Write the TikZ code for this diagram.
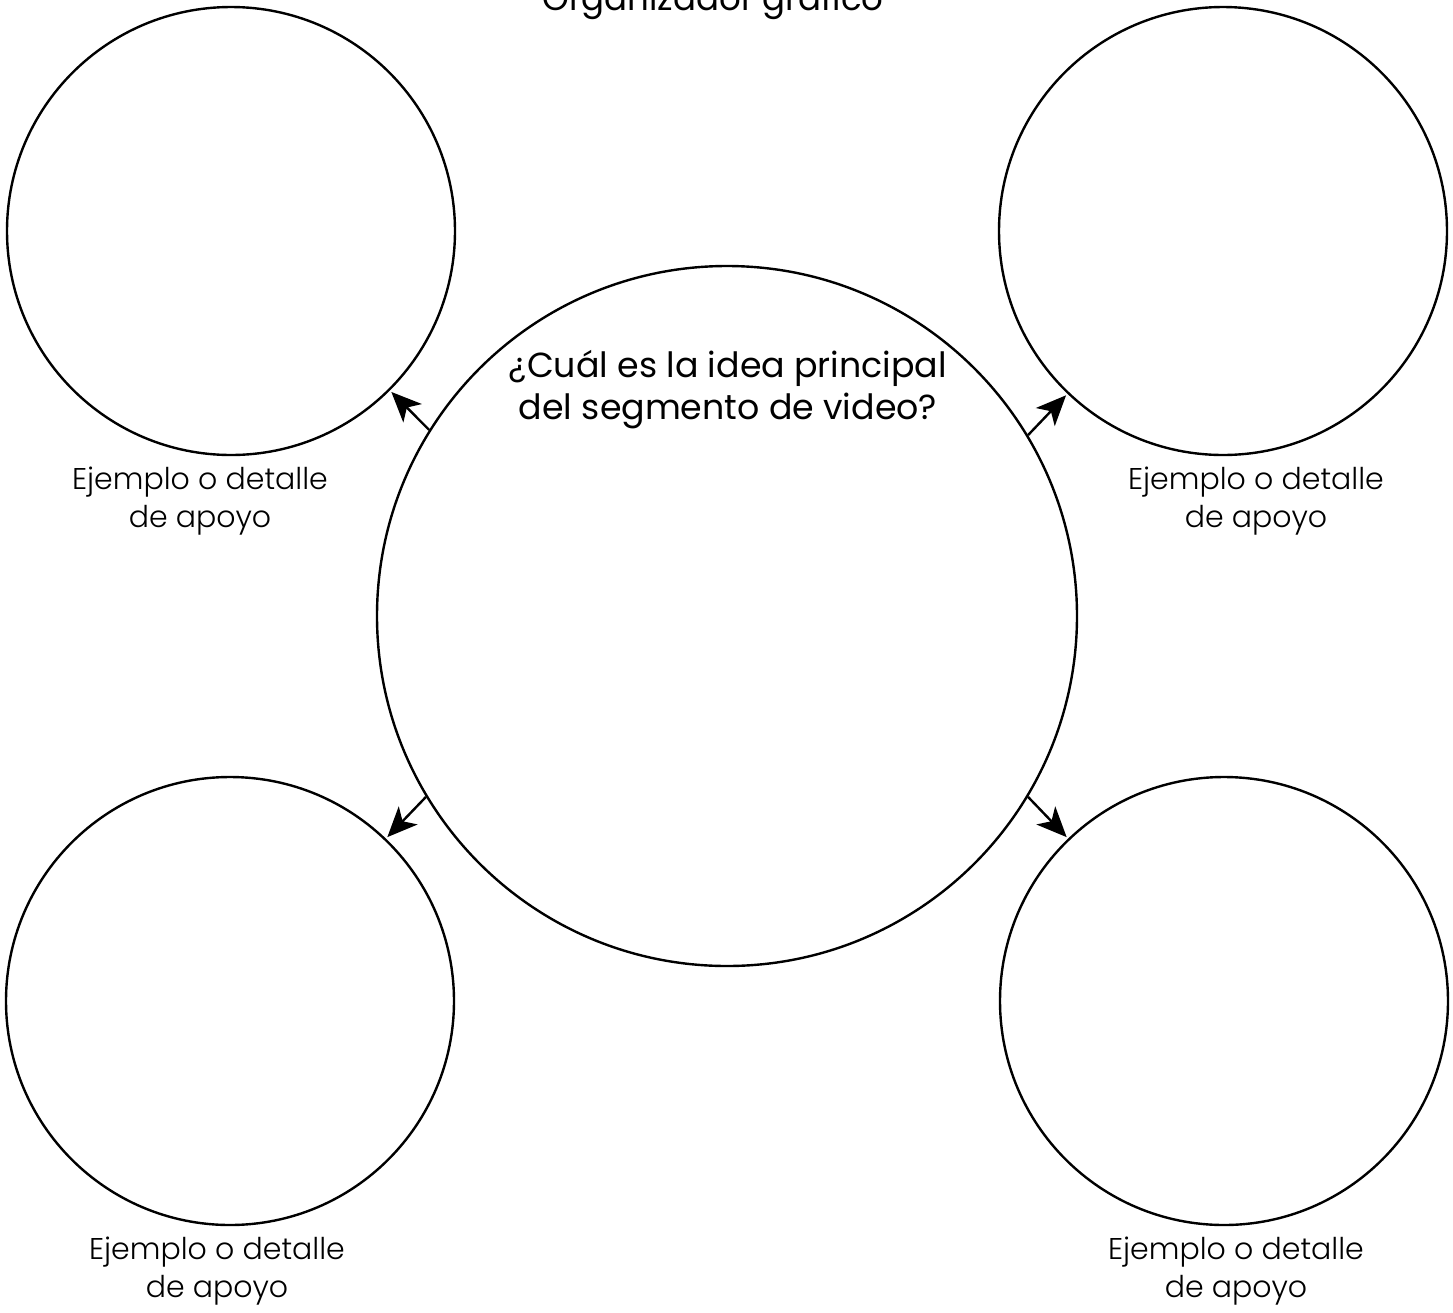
\documentclass[tikz,border=0pt]{standalone}
\usepackage{fontspec}
\setmainfont{Poppins}
\newfontfamily\lightfont{Poppins Light}
\usetikzlibrary{arrows.meta, positioning}
\tikzset{
  bigcircle/.style = {draw, circle, line width=1.2pt, minimum size=350pt, inner sep=0pt},
  smallcircle/.style = {draw, circle, line width=1.2pt, minimum size=224pt, inner sep=0pt},
  caption/.style = {align=center, inner sep=0pt, font=\lightfont\fontsize{15}{19}\selectfont},
  question/.style = {align=center, inner sep=0pt, font=\fontsize{17.4}{21}\selectfont},
  line/.style = {-{Stealth[length=15pt, width=13pt, inset=4pt]}, line width=1.2pt, shorten >=1pt},
}

\begin{document}
\begin{tikzpicture}[x=0.5pt, y=-0.5pt]
    \useasboundingbox (0,0) rectangle (1453,1313);

    \node[question, anchor=base, font=\fontsize{17}{21}\selectfont] (title) at (713,10) {Organizador gráfico};

    \node[bigcircle] (main) at (727,616) {};
    \node[question] (idea) at (728,390) {¿Cuál es la idea principal\\del segmento de video?};

    \node[smallcircle] (tl) at (231,231) {};
    \node[smallcircle] (tr) at (1223,231) {};
    \node[smallcircle] (bl) at (230,1001) {};
    \node[smallcircle] (br) at (1224,1001) {};

    \node[caption, below=5pt of tl, xshift=-15.5pt] (tlcap) {Ejemplo o detalle\\de apoyo};
    \node[caption, below=5pt of tr, xshift=16.5pt] (trcap) {Ejemplo o detalle\\de apoyo};
    \node[caption, below=5pt of bl, xshift=-6.5pt] (blcap) {Ejemplo o detalle\\de apoyo};
    \node[caption, below=5pt of br, xshift=6pt] (brcap) {Ejemplo o detalle\\de apoyo};

    \draw[line] (main.148.5) -- (tl);
    \draw[line] (main.31.5) -- (tr);
    \draw[line] (main.211.5) -- (bl);
    \draw[line] (main.-31.5) -- (br);
\end{tikzpicture}
\end{document}
